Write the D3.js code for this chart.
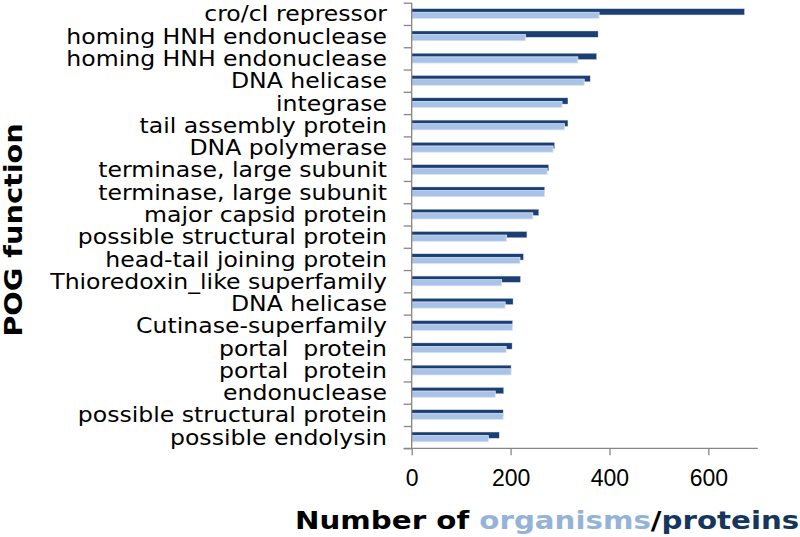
<!DOCTYPE html>
<html>
<head>
<meta charset="utf-8">
<script src="https://cdn.jsdelivr.net/npm/d3@7"></script>
<style>
  html, body { margin: 0; padding: 0; background: #fff; }
  svg { display: block; font-family: "DejaVu Sans", Verdana, sans-serif; }
  .cat { font-size: 20.5px; fill: #000; white-space: pre; }
  .tick-lbl { font-size: 23px; fill: #000; }
  .axis path, .axis line { stroke: #868686; stroke-width: 1.3; }
</style>
</head>
<body>
<svg id="chart" width="800" height="537"></svg>
<script>
// POG functions, top to bottom as in the figure
const categories = [
  "cro/cI repressor",
  "homing HNH endonuclease",
  "homing HNH endonuclease",
  "DNA helicase",
  "integrase",
  "tail assembly protein",
  "DNA polymerase",
  "terminase, large subunit",
  "terminase, large subunit",
  "major capsid protein",
  "possible structural protein",
  "head-tail joining protein",
  "Thioredoxin_like superfamily",
  "DNA helicase",
  "Cutinase-superfamily",
  "portal  protein",
  "portal  protein",
  "endonuclease",
  "possible structural protein",
  "possible endolysin"
];
const organisms = [379, 230, 336, 349, 304, 309, 286, 274, 269, 245, 192, 219, 182, 189, 204, 191, 201, 169, 185, 155];
const proteins  = [673, 377, 374, 361, 316, 316, 289, 277, 269, 257, 233, 226, 220, 205, 204, 203, 201, 186, 185, 177];
const xTicks = [0, 200, 400, 600];

const X0 = 411.7, X1 = 757.8, Y0 = 2.7, Y1 = 448.3;
const TICK = 8;
const TEXT_SX = 1.15;   // labels in the figure are wider than DejaVu

const svg = d3.select("#chart");
const x = d3.scaleLinear().domain([0, 700]).range([X0, X1]);
const y = d3.scaleBand().domain(d3.range(categories.length)).range([Y0, Y1]).padding(0);
const bw = y.bandwidth();

// ---- bars: proteins (dark) behind, organisms (light) overlapping below ----
const gBars = svg.append("g");
gBars.selectAll("rect.prot")
  .data(proteins)
  .join("rect")
  .attr("class", "prot")
  .attr("x", x(0))
  .attr("y", (d, i) => y(i) + bw * 0.27)
  .attr("width", (d) => x(d) - x(0))
  .attr("height", bw * 0.28)
  .attr("fill", "#1b3f72")
  .attr("stroke", "#d3e0f1")
  .attr("stroke-width", 0.4);
gBars.selectAll("rect.org")
  .data(organisms)
  .join("rect")
  .attr("class", "org")
  .attr("x", x(0))
  .attr("y", (d, i) => y(i) + bw * 0.43)
  .attr("width", (d) => x(d) - x(0))
  .attr("height", bw * 0.28)
  .attr("fill", "#a8c2e8")
  .attr("stroke", "#dde7f5")
  .attr("stroke-width", 0.8);

// ---- left axis: ticks on band boundaries ----
const yLin = d3.scaleLinear().domain([0, categories.length]).range([Y0, Y1]);
svg.append("g")
  .attr("class", "axis")
  .attr("transform", `translate(${X0},0)`)
  .call(d3.axisLeft(yLin).ticks(categories.length).tickSize(TICK).tickSizeOuter(0).tickFormat(""))
  .call((g) => g.select(".domain").attr("d", `M0,${Y0}V${Y1}`));

// ---- bottom axis ----
const gx = svg.append("g")
  .attr("class", "axis")
  .attr("transform", `translate(0,${Y1})`)
  .call(d3.axisBottom(x).tickValues(xTicks).tickSize(7).tickSizeOuter(0).tickFormat(""));
gx.select(".domain").attr("d", `M${X0 - TICK},0H${X1}`);
gx.selectAll(".tick")
  .append("text")
  .attr("class", "tick-lbl")
  .attr("y", 486.5 - Y1)
  .attr("text-anchor", "middle")
  .text((d) => d);

// ---- category labels ----
svg.append("g")
  .selectAll("text")
  .data(categories)
  .join("text")
  .attr("class", "cat")
  .attr("text-anchor", "end")
  .attr("transform", (d, i) => `translate(387,${y(i) + bw / 2 + 7.6}) scale(${TEXT_SX},1)`)
  .text((d) => d);

// ---- axis titles ----
const xt = svg.append("text")
  .attr("transform", "translate(295,529) scale(1.22,1)")
  .attr("font-weight", "bold")
  .attr("font-size", "24px");
xt.append("tspan").attr("fill", "#000").text("Number of ");
xt.append("tspan").attr("fill", "#95b3d7").text("organisms");
xt.append("tspan").attr("fill", "#000").text("/");
xt.append("tspan").attr("fill", "#17365d").text("proteins");

svg.append("text")
  .attr("transform", "translate(21.5,230) rotate(-90) scale(1.2,1)")
  .attr("text-anchor", "middle")
  .attr("font-weight", "bold")
  .attr("font-size", "24px")
  .text("POG function");
</script>
</body>
</html>
